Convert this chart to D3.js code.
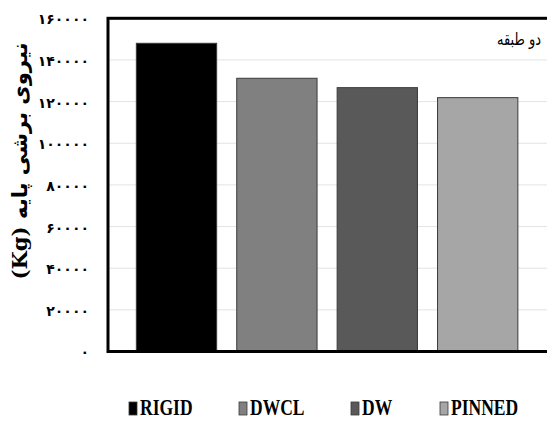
<!DOCTYPE html>
<html>
<head>
<meta charset="utf-8">
<script src="https://cdn.jsdelivr.net/npm/d3@7"></script>
<style>
  html, body { margin: 0; padding: 0; background: #fff; overflow: hidden; }
  svg { display: block; }
</style>
</head>
<body>
<svg id="chart" width="547" height="421"></svg>
<script>
// ---- data ----
const categories = ["RIGID", "DWCL", "DW", "PINNED"];
const values = [148000, 131200, 126700, 121900];
const colors = ["#000000", "#808080", "#595959", "#a6a6a6"];
const yTicks = [0, 20000, 40000, 60000, 80000, 100000, 120000, 140000, 160000];
const yTitle = "نیروی برشی پایه (Kg)";
const annotation = "دو طبقه";

const persianDigits = "۰۱۲۳۴۵۶۷۸۹";
const toPersian = n => String(n).replace(/[0-9]/g, d => persianDigits[+d]);

const svg = d3.select("#chart");

const plot = { left: 108, top: 18.3, right: 562, bottom: 351.5 };

const y = d3.scaleLinear().domain([0, 160000]).range([plot.bottom, plot.top]);
const x = d3.scaleBand().domain(categories).range([126.3, 527.9])
  .paddingInner(0.2).paddingOuter(0.1);

// gridlines
svg.append("g")
  .selectAll("line")
  .data(yTicks)
  .join("line")
  .attr("x1", plot.left).attr("x2", plot.right)
  .attr("y1", d => y(d)).attr("y2", d => y(d))
  .attr("stroke", "#e3e3e3").attr("stroke-width", 1);

// bars
svg.append("g")
  .selectAll("rect")
  .data(categories)
  .join("rect")
  .attr("x", d => x(d))
  .attr("width", x.bandwidth())
  .attr("y", (d, i) => y(values[i]))
  .attr("height", (d, i) => y(0) - y(values[i]))
  .attr("fill", (d, i) => colors[i])
  .attr("stroke", "#3a3a3a")
  .attr("stroke-width", 1);

// frame
svg.append("rect")
  .attr("x", plot.left).attr("y", plot.top)
  .attr("width", plot.right - plot.left)
  .attr("height", plot.bottom - plot.top)
  .attr("fill", "none")
  .attr("stroke", "#000")
  .attr("stroke-width", 3);

// y axis labels
const yAxis = d3.axisLeft(y).tickValues(yTicks).tickFormat(toPersian)
  .tickSize(0).tickPadding(19);
const gy = svg.append("g").attr("transform", `translate(${plot.left},1)`).call(yAxis);
gy.select(".domain").remove();
gy.selectAll("text")
  .attr("font-family", "'DejaVu Sans', sans-serif")
  .attr("font-size", 14)
  .attr("font-weight", "bold")
  .attr("fill", "#000");

// y title
const title = svg.append("text")
  .attr("transform", "translate(27,161) rotate(-90)")
  .attr("text-anchor", "middle")
  .attr("direction", "rtl")
  .attr("font-family", "'DejaVu Serif', 'DejaVu Sans', serif")
  .attr("font-size", 21)
  .attr("font-weight", "bold")
  .attr("fill", "#000")
  .text(yTitle);
const tl = title.node().getComputedTextLength();
title.attr("transform", `translate(27,161) rotate(-90) scale(${237 / tl},1)`);

// annotation
const ann = svg.append("text")
  .attr("text-anchor", "middle")
  .attr("direction", "rtl")
  .attr("font-family", "'DejaVu Sans', sans-serif")
  .attr("font-size", 17)
  .attr("fill", "#000")
  .text(annotation);
const al = ann.node().getComputedTextLength();
ann.attr("transform", `translate(519,45) scale(${44 / al},1)`);

// legend
const legendX = [129, 239, 351, 440];
const lg = svg.append("g");
categories.forEach((c, i) => {
  lg.append("rect")
    .attr("x", legendX[i]).attr("y", 402)
    .attr("width", 8).attr("height", 13)
    .attr("fill", colors[i])
    .attr("stroke", "#3a3a3a").attr("stroke-width", 0.8);
  lg.append("text")
    .attr("transform", `translate(${legendX[i] + 11},415) scale(0.73,1)`)
    .attr("font-family", "'Liberation Serif', 'Times New Roman', serif")
    .attr("font-size", 24)
    .attr("font-weight", "bold")
    .attr("fill", "#000")
    .text(c);
});
</script>
</body>
</html>
